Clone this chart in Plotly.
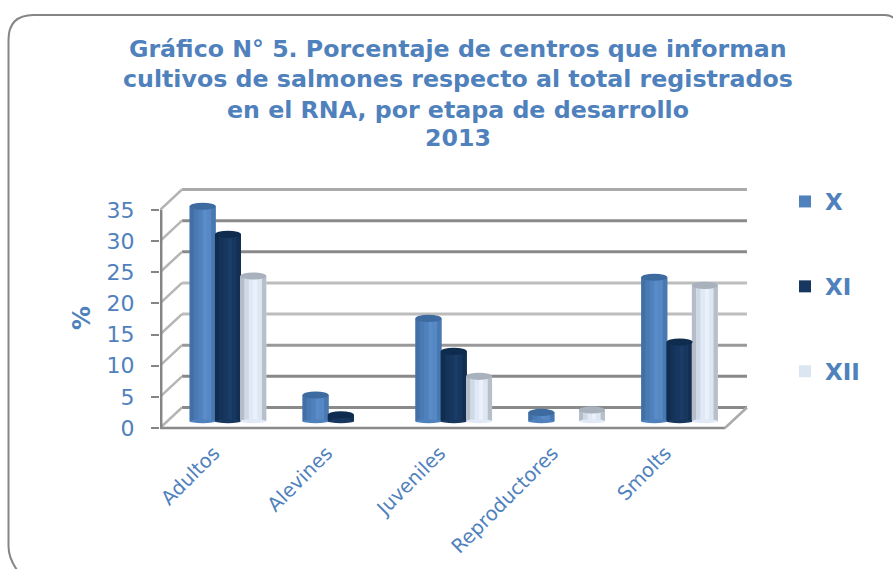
import plotly.graph_objects as go

categories = ["Adultos", "Alevines", "Juveniles", "Reproductores", "Smolts"]
series_names = ["X", "XI", "XII"]
values_x = [34.5, 4.2, 16.5, 1.4, 23.1]
values_xi = [30.0, 1.0, 11.2, 0, 12.7]
values_xii = [23.3, 0, 7.2, 1.8, 21.8]
y_ticks = [0, 5, 10, 15, 20, 25, 30, 35]
title_lines = ["Gráfico N° 5. Porcentaje de centros que informan",
               "cultivos de salmones respecto al total registrados",
               "en el RNA, por etapa de desarrollo", "2013"]

W, H = 893, 569
L, R, T, B = 160, 750, 186, 431
PYU = 218 / 35
PXU = 112.9
XMIN = -0.602
XEND = 4.597
XMAX = XMIN + (R - L) / PXU
YMIN = -(B - 428) / PYU
YMAX = (428 - T) / PYU
DX = 22 / PXU
DY = 20.5 / PYU
BASE = 1.1
BLUE = "#4F81BD"
GRID = ["#8a8a8a", "#888888", "#999999", "#bdbdbd", "#bdbdbd", "#8a8a8a", "#8a8a8a", "#aaaaaa"]

bar_w = 26 / PXU
step = 25.3 / PXU
series = [
    (values_x, BLUE, ["#426FA5", "#4A7AB3", BLUE, "#5A8CC8", "#5588C4", "#4878B0"], "#3D6A9F", -step),
    (values_xi, "#17375E", ["#102C4E", "#15335A", "#17375E", "#1A3C66", "#17375E", "#122F52"], "#0F2C4E", 0),
    (values_xii, "#DCE6F2", ["#B4BDC8", "#CFD9E5", "#E0E9F5", "#E9F1FC", "#DDE6F2", "#B6BFCA"], "#A8B1BC", step),
]

fig = go.Figure()
shapes = []

# rounded frame (pixel path converted to paper fractions)
r = 25
frame = (f"M 17 {H+1} Q 8.5 558 8.5 546 L 8.5 {15+r} Q 8.5 15 {8.5+r} 15 L {W-8} 15 Q {W-2} 15 {W+2} 19")
out, is_x = [], True
for t in frame.split():
    if t.isalpha():
        out.append(t); is_x = True
    else:
        v = float(t)
        out.append(f"{v/W:.5f}" if is_x else f"{1-v/H:.5f}")
        is_x = not is_x
shapes.append(dict(type="path", xref="paper", yref="paper", path=" ".join(out),
                   line=dict(color="#858585", width=2)))

# walls
AX = XMIN + 1.2 / PXU
for v, c in zip(y_ticks, GRID):
    shapes.append(dict(type="line", layer="below", x0=XMIN + DX, x1=XEND, y0=v + DY, y1=v + DY,
                       line=dict(color=c, width=3)))
    shapes.append(dict(type="line", layer="below", x0=XMIN, x1=XMIN + DX, y0=v, y1=v + DY,
                       line=dict(color="#b5b5b5", width=2.5)))
shapes.append(dict(type="line", layer="below", x0=AX, x1=AX, y0=0, y1=35, line=dict(color="#858585", width=2.5)))
shapes.append(dict(type="line", layer="below", x0=XMIN, x1=XEND - DX, y0=0, y1=0, line=dict(color="#8a8a8a", width=2.5)))
shapes.append(dict(type="line", layer="below", x0=XEND - DX, x1=XEND, y0=0, y1=DY, line=dict(color="#aaaaaa", width=2.5)))

n = 6
for name, (vals, col, strips, cap, shift) in zip(series_names, series):
    xs = [i + shift for i, v in enumerate(vals) if v > 0]
    ys = [v for v in vals if v > 0]
    fig.add_trace(go.Bar(x=xs, y=ys, base=BASE, width=bar_w, name=name, marker=dict(color=col, line_width=0),
                         legendgroup=name, showlegend=True, hoverinfo="skip"))
    for k, c in enumerate(strips):
        fig.add_trace(go.Bar(x=xs, y=ys, base=BASE, width=bar_w / n, offset=-bar_w / 2 + k * bar_w / n,
                             marker=dict(color=c, line_width=0), legendgroup=name, showlegend=False, hoverinfo="skip"))
    eh = 3.6 / PYU
    eb = 2 / PYU
    for x, v in zip(xs, ys):
        shapes.append(dict(type="circle", x0=x - bar_w / 2, x1=x + bar_w / 2, y0=BASE - eb, y1=BASE + eb,
                           fillcolor=strips[2], line_width=0))
        shapes.append(dict(type="circle", x0=x - bar_w / 2, x1=x + bar_w / 2, y0=BASE + v - eh, y1=BASE + v + eh,
                           fillcolor=cap, line_width=0))

annotations = []
for text, py in zip(title_lines, [49, 79, 110, 138]):
    annotations.append(dict(text=f"<b>{text}</b>", xref="paper", yref="paper", x=458 / W, y=1 - py / H,
                            xanchor="center", yanchor="middle", showarrow=False,
                            font=dict(family="DejaVu Sans", size=23.7, color=BLUE)))
annotations.append(dict(text="<b>%</b>", xref="paper", yref="paper", x=82 / W, y=1 - 318 / H, textangle=-90,
                        xanchor="center", yanchor="middle", showarrow=False,
                        font=dict(family="DejaVu Sans", size=24, color=BLUE)))

fig.update_layout(
    width=W, height=H, margin=dict(l=0, r=0, t=0, b=0, autoexpand=False), paper_bgcolor="white", plot_bgcolor="white",
    barmode="overlay", shapes=shapes, annotations=annotations,
    legend=dict(x=785 / W, y=1 - 180 / H, xanchor="left", yanchor="top", tracegroupgap=52,
                traceorder="grouped", font=dict(family="DejaVu Sans", size=23, color=BLUE, weight="bold"),
                bgcolor="rgba(0,0,0,0)"),
    xaxis=dict(domain=[L / W, R / W], range=[XMIN, XMAX], tickmode="array", tickvals=list(range(5)),
               ticktext=categories, tickangle=-45, showgrid=False, zeroline=False, showline=False, ticks="",
               automargin=False, ticklabelshift=-14, ticklabelstandoff=6,
               tickfont=dict(family="DejaVu Sans", size=19.5, color=BLUE)),
    yaxis=dict(domain=[1 - B / H, 1 - T / H], range=[YMIN, YMAX], tickmode="array", tickvals=y_ticks,
               showgrid=False, zeroline=False, showline=False, ticks="outside", ticklen=8, tickcolor="#858585",
               automargin=False, tickwidth=2, ticklabelstandoff=12,
               tickfont=dict(family="DejaVu Sans", size=22, color=BLUE)),
)
fig.write_html("out.html", config={"displayModeBar": False},
               post_script="document.body.style.margin='0';document.body.style.overflow='hidden';")
